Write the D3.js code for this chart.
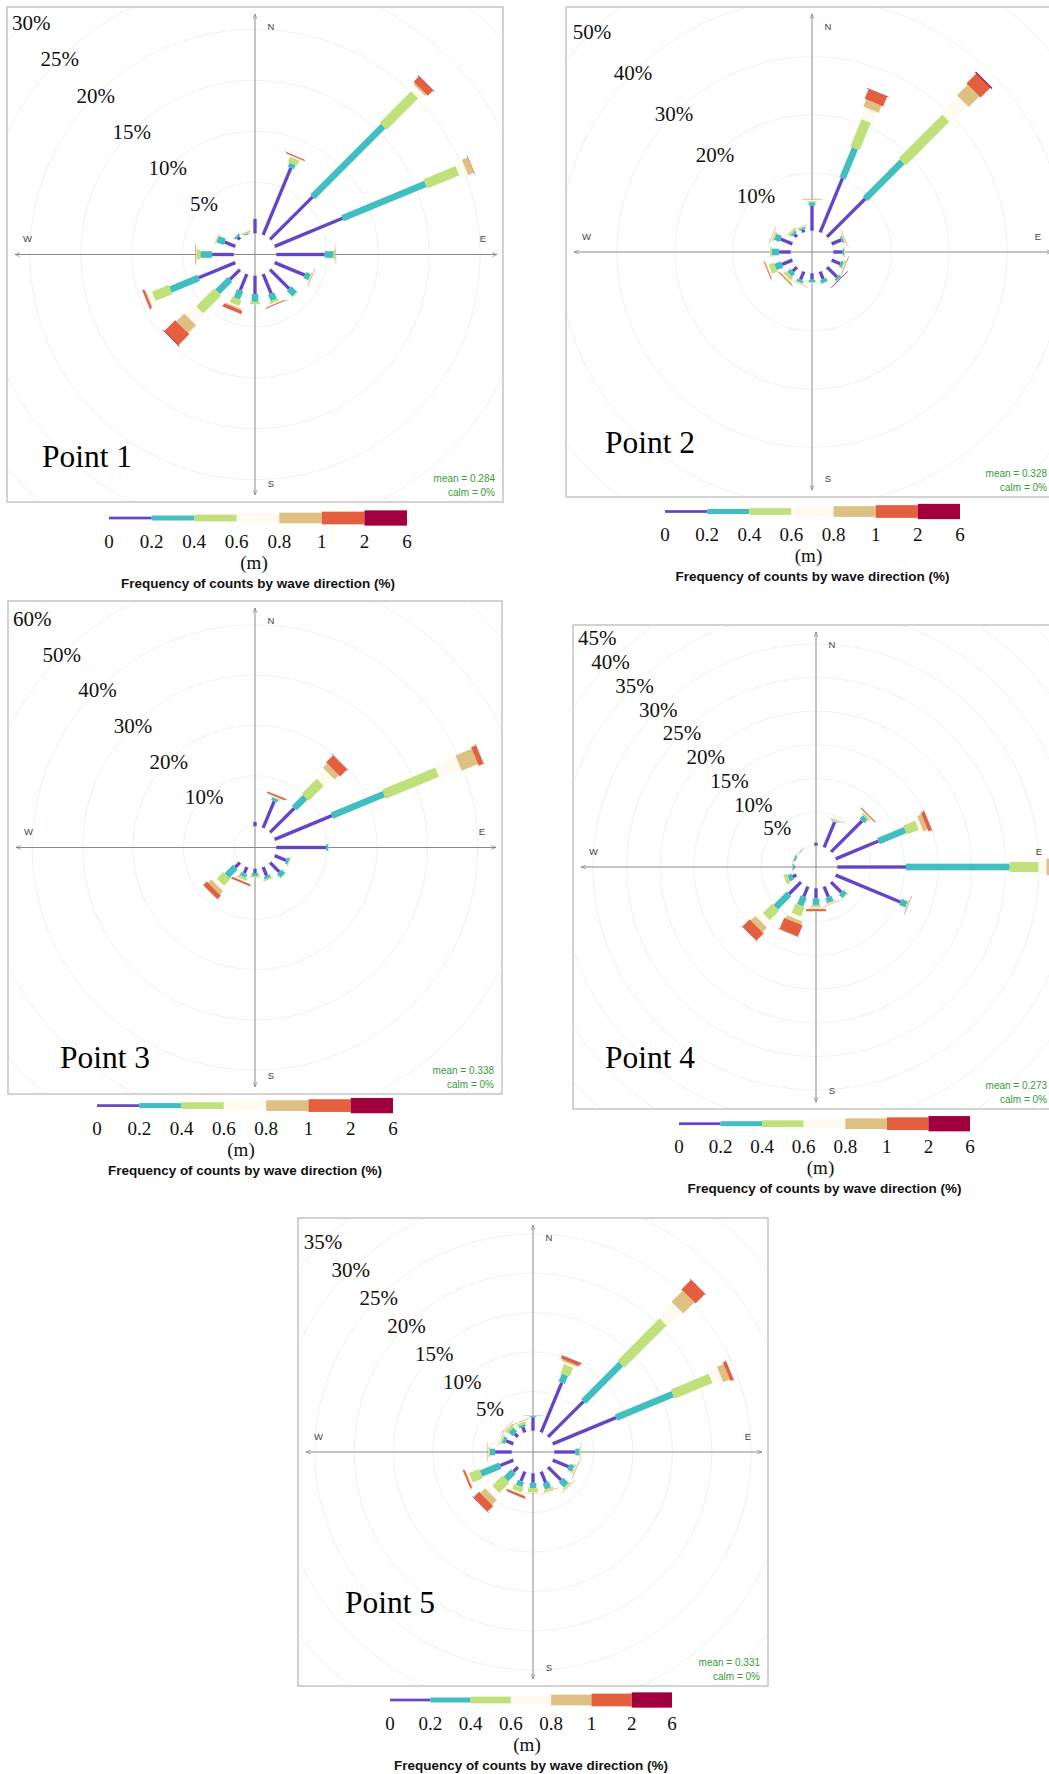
<!DOCTYPE html>
<html>
<head>
<meta charset="utf-8">
<script src="https://cdn.jsdelivr.net/npm/d3@7"></script>
<style>
  body { margin: 0; background: #fff; }
  svg { display: block; }
  .pct { font-family: "Liberation Serif", "Times New Roman", serif; font-size: 21px; fill: #111; }
  .pname { font-family: "Liberation Serif", "Times New Roman", serif; font-size: 32px; fill: #000; }
  .compass { font-family: "Liberation Sans", Arial, sans-serif; font-size: 9.5px; fill: #444; }
  .stats { font-family: "Liberation Sans", Arial, sans-serif; font-size: 10px; fill: #3a9a3a; }
  .legnum { font-family: "Liberation Serif", "Times New Roman", serif; font-size: 19px; fill: #111; }
  .legtitle { font-family: "Liberation Sans", Arial, sans-serif; font-size: 13px; font-weight: bold; fill: #111; }
</style>
</head>
<body>
<div id="chart"></div>
<script>
// Wave direction bins (degrees from north)
var directions = [0, 22.5, 45, 67.5, 90, 112.5, 135, 157.5, 180, 202.5, 225, 247.5, 270, 292.5, 315, 337.5];

// Wave height classes (m) and their colours
var heightBreaks = ["0", "0.2", "0.4", "0.6", "0.8", "1", "2", "6"];
var binColours = ["#6444c8", "#41bfc0", "#bfe07b", "#fffaef", "#dec083", "#e35f3e", "#a1003f"];

// Cumulative frequency (%) per direction, by height class (0-0.2, -0.4, -0.6, -0.8, -1, -2, -6 m)
var point1 = [
  [1.4, 1.4, 1.4, 1.4, 1.4, 1.4, 1.4],
  [7.1, 7.55, 8.1, 8.2, 8.25, 8.35, 8.37],
  [5.9, 15.7, 20.05, 20.7, 20.9, 21.6, 21.65],
  [7.2, 16.0, 19.4, 20.2, 20.8, 20.85, 20.86],
  [4.74, 5.62, 5.8, 5.82, 5.83, 5.86, 5.86],
  [3.2, 3.7, 3.8, 3.85, 3.86, 3.9, 3.9],
  [2.64, 3.42, 3.5, 3.5, 3.5, 3.5, 3.5],
  [2.05, 2.75, 3.0, 3.1, 3.15, 3.2, 3.22],
  [1.8, 2.55, 2.78, 2.8, 2.8, 2.8, 2.8],
  [1.7, 2.58, 3.18, 3.35, 3.5, 3.8, 3.82],
  [1.37, 3.1, 5.6, 6.9, 8.0, 9.5, 9.55],
  [3.89, 6.9, 8.66, 9.15, 9.25, 9.45, 9.47],
  [2.12, 3.27, 3.6, 3.65, 3.7, 3.75, 3.75],
  [1.13, 1.87, 2.0, 2.02, 2.02, 2.02, 2.02],
  [0.3, 0.5, 0.55, 0.55, 0.55, 0.55, 0.55],
  [0.05, 0.15, 0.3, 0.3, 0.3, 0.3, 0.3]
];
var point2 = [
  [4.3, 4.9, 5.1, 5.38, 5.41, 5.47, 5.48],
  [10.1, 15.7, 20.8, 22.9, 24.2, 26.0, 26.1],
  [9.3, 18.3, 29.0, 33.1, 35.7, 38.1, 38.3],
  [1.8, 2.1, 2.3, 2.35, 2.4, 2.45, 2.45],
  [1.6, 1.85, 2.0, 2.05, 2.05, 2.05, 2.05],
  [1.6, 2.05, 2.3, 2.4, 2.45, 2.52, 2.53],
  [2.4, 2.9, 3.0, 3.0, 3.0, 3.0, 3.08],
  [1.38, 2.0, 2.1, 2.15, 2.15, 2.15, 2.15],
  [1.1, 1.55, 1.65, 1.7, 1.7, 1.7, 1.7],
  [1.5, 2.0, 2.1, 2.2, 2.25, 2.27, 2.27],
  [1.0, 1.8, 2.4, 2.6, 2.8, 2.9, 2.92],
  [1.9, 3.16, 4.1, 4.4, 4.55, 4.65, 4.67],
  [2.0, 3.3, 3.55, 3.6, 3.6, 3.6, 3.6],
  [2.2, 3.2, 3.5, 3.65, 3.75, 3.78, 3.78],
  [0.6, 1.0, 1.4, 1.45, 1.5, 1.5, 1.5],
  [0.5, 0.8, 1.0, 1.05, 1.1, 1.12, 1.12]
];
var point3 = [
  [0.86, 0.86, 0.86, 0.86, 0.86, 0.86, 0.86],
  [5.7, 6.3, 6.5, 6.6, 6.7, 7.0, 7.02],
  [6.8, 9.9, 14.1, 16.5, 17.7, 19.6, 19.7],
  [12.3, 23.5, 34.9, 39.5, 43.0, 44.0, 44.05],
  [9.9, 10.3, 10.4, 10.4, 10.4, 10.4, 10.4],
  [2.5, 3.0, 3.2, 3.25, 3.25, 3.25, 3.25],
  [2.6, 3.6, 3.7, 3.7, 3.7, 3.7, 3.7],
  [1.85, 2.4, 2.7, 2.72, 2.72, 2.72, 2.72],
  [0.86, 1.4, 1.7, 1.72, 1.72, 1.72, 1.72],
  [1.3, 2.0, 2.6, 2.8, 2.9, 3.2, 3.22],
  [1.3, 3.65, 5.5, 6.4, 7.3, 8.3, 8.35],
  [0, 0, 0, 0, 0, 0, 0],
  [0, 0, 0, 0, 0, 0, 0],
  [0, 0, 0, 0, 0, 0, 0],
  [0, 0, 0, 0, 0, 0, 0],
  [0, 0, 0, 0, 0, 0, 0]
];
var point4 = [
  [0.45, 0.45, 0.45, 0.45, 0.45, 0.45, 0.45],
  [4.06, 4.2, 4.35, 4.4, 4.45, 4.47, 4.47],
  [6.5, 7.2, 7.55, 7.65, 7.7, 7.85, 7.87],
  [6.9, 11.2, 13.1, 13.6, 14.3, 14.8, 14.85],
  [10.2, 25.6, 29.9, 31.1, 32.3, 33.0, 33.05],
  [10.4, 11.4, 11.55, 11.6, 11.6, 11.67, 11.67],
  [2.15, 2.85, 3.0, 3.05, 3.05, 3.05, 3.05],
  [1.65, 2.45, 2.6, 2.7, 2.75, 2.78, 2.78],
  [1.5, 2.5, 2.85, 3.0, 3.1, 3.4, 3.4],
  [1.6, 3.0, 4.5, 5.1, 5.6, 7.4, 7.45],
  [2.5, 5.3, 7.3, 8.35, 9.3, 10.8, 10.85],
  [0.6, 1.25, 1.8, 1.85, 1.85, 1.85, 1.85],
  [0.15, 0.35, 0.4, 0.4, 0.4, 0.4, 0.4],
  [0.1, 0.3, 0.4, 0.4, 0.4, 0.4, 0.4],
  [0.05, 0.1, 0.2, 0.2, 0.2, 0.2, 0.2],
  [0, 0, 0, 0, 0, 0, 0]
];
var point5 = [
  [1.7, 1.85, 1.88, 1.9, 1.92, 1.95, 1.95],
  [6.8, 7.9, 9.15, 9.4, 9.6, 10.0, 10.05],
  [6.35, 13.1, 20.65, 23.2, 25.2, 26.9, 26.95],
  [8.7, 16.5, 21.7, 23.0, 23.9, 24.3, 24.35],
  [2.67, 3.2, 3.3, 3.35, 3.37, 3.4, 3.4],
  [2.2, 2.8, 3.0, 3.1, 3.15, 3.2, 3.2],
  [2.35, 3.25, 3.5, 3.55, 3.6, 3.62, 3.62],
  [1.5, 2.3, 2.6, 2.65, 2.7, 2.72, 2.72],
  [1.2, 1.9, 2.45, 2.5, 2.5, 2.52, 2.52],
  [1.27, 1.95, 2.65, 2.8, 2.9, 3.15, 3.17],
  [0.8, 2.16, 4.0, 4.85, 5.7, 6.7, 6.75],
  [1.8, 4.45, 5.85, 6.1, 6.2, 6.4, 6.42],
  [2.1, 2.75, 2.95, 3.0, 3.05, 3.08, 3.08],
  [1.0, 1.4, 1.6, 1.7, 1.73, 1.75, 1.75],
  [0.55, 1.27, 1.7, 1.8, 1.84, 1.87, 1.87],
  [0.7, 1.0, 1.3, 1.4, 1.45, 1.48, 1.48]
];

// Radial tick labels (%) per point
var ticks1 = [5, 10, 15, 20, 25, 30];
var ticks2 = [10, 20, 30, 40, 50];
var ticks3 = [10, 20, 30, 40, 50, 60];
var ticks4 = [5, 10, 15, 20, 25, 30, 35, 40, 45];
var ticks5 = [5, 10, 15, 20, 25, 30, 35];

var pointNames = ["Point 1", "Point 2", "Point 3", "Point 4", "Point 5"];
var meanHeights = ["0.284", "0.328", "0.338", "0.273", "0.331"];
var calmPct = ["0%", "0%", "0%", "0%", "0%"];

// Panel layout (frame box, px per %, name and legend placement)
var panels = [
  { data: point1, ticks: ticks1, x: 7,   y: 7,    w: 496, h: 495, k: 10.2, nx: 35, ny: -35, lx: 258,   ly: 518,    lw: 298 },
  { data: point2, ticks: ticks2, x: 566, y: 7,    w: 492, h: 490, k: 5.8,  nx: 39, ny: -44, lx: 812.5, ly: 511.5,  lw: 295 },
  { data: point3, ticks: ticks3, x: 8,   y: 601,  w: 494, h: 493, k: 5.04, nx: 52, ny: -26, lx: 245,   ly: 1105.6, lw: 296 },
  { data: point4, ticks: ticks4, x: 573, y: 625,  w: 486, h: 484, k: 6.73, nx: 32, ny: -41, lx: 824.5, ly: 1123.7, lw: 291 },
  { data: point5, ticks: ticks5, x: 298, y: 1218, w: 470, h: 468, k: 7.88, nx: 47, ny: -73, lx: 531,   ly: 1700,   lw: 282 }
];

var pageWidth = 1049,
    innerOffset = 21.3,     // radius of the calm hole
    paddleUnit = 3.33,      // paddle width step per height class
    legendHeights = [2.7, 5, 6.7, 8.7, 10.7, 12.7, 15.3];

var svg = d3.select("#chart").append("svg")
    .attr("width", pageWidth)
    .attr("height", 1774);

var defs = svg.append("defs");
defs.append("marker")
    .attr("id", "arrow")
    .attr("viewBox", "0 -5 10 10")
    .attr("refX", 10)
    .attr("markerWidth", 5)
    .attr("markerHeight", 5)
    .attr("orient", "auto-start-reverse")
  .append("path")
    .attr("d", "M0,-4L10,0L0,4")
    .attr("fill", "none")
    .attr("stroke", "#777")
    .attr("stroke-width", 1.2);

panels.forEach(function(p, pi) {
    drawRose(p, pi);
    drawLegend(p);
});

function drawRose(p, pi) {
    var cx = p.x + p.w / 2,
        cy = p.y + p.h / 2,
        maxTick = d3.max(p.ticks);

    var radius = d3.scaleLinear()
        .domain([0, maxTick])
        .range([innerOffset, innerOffset + p.k * maxTick]);

    defs.append("clipPath").attr("id", "clip" + pi)
      .append("rect")
        .attr("x", p.x).attr("y", p.y)
        .attr("width", p.w).attr("height", p.h);

    var g = svg.append("g").attr("clip-path", "url(#clip" + pi + ")");

    // grid rings
    g.selectAll("circle.ring")
        .data([0].concat(p.ticks))
        .enter().append("circle")
        .attr("class", "ring")
        .attr("cx", cx).attr("cy", cy)
        .attr("r", function(d) { return radius(d); })
        .attr("fill", "none")
        .attr("stroke", "#e6f2e6")
        .attr("stroke-width", 0.8);

    // compass axes
    g.append("line")
        .attr("x1", p.x + 8).attr("x2", p.x + p.w - 6)
        .attr("y1", cy).attr("y2", cy)
        .attr("stroke", "#8a8a8a").attr("stroke-width", 1)
        .attr("marker-start", "url(#arrow)").attr("marker-end", "url(#arrow)");
    g.append("line")
        .attr("x1", cx).attr("x2", cx)
        .attr("y1", p.y + 7).attr("y2", p.y + p.h - 7)
        .attr("stroke", "#8a8a8a").attr("stroke-width", 1)
        .attr("marker-start", "url(#arrow)").attr("marker-end", "url(#arrow)");

    // paddles
    var rose = g.append("g").attr("transform", "translate(" + cx + "," + cy + ")");
    var spokes = rose.selectAll("g.spoke")
        .data(p.data)
        .enter().append("g")
        .attr("class", "spoke")
        .attr("transform", function(d, i) { return "rotate(" + directions[i] + ")"; });

    spokes.selectAll("rect")
        .data(function(d) {
            return d.map(function(v, j) { return { lo: j ? d[j - 1] : 0, hi: v, j: j }; })
                    .filter(function(s) { return s.hi > s.lo; });
        })
        .enter().append("rect")
        .attr("x", function(s) { return -paddleUnit * (s.j + 1) / 2; })
        .attr("width", function(s) { return paddleUnit * (s.j + 1); })
        .attr("y", function(s) { return -radius(s.hi); })
        .attr("height", function(s) { return radius(s.hi) - radius(s.lo); })
        .attr("fill", function(s) { return binColours[s.j]; });

    // compass letters
    var compass = [
        { t: "N", x: cx + 16, y: p.y + 20 },
        { t: "S", x: cx + 16, y: p.y + p.h - 18.5 },
        { t: "W", x: p.x + 20.5, y: cy - 15.5 },
        { t: "E", x: p.x + p.w - 20, y: cy - 15.5 }
    ];
    g.selectAll("text.compass")
        .data(compass)
        .enter().append("text")
        .attr("class", "compass")
        .attr("x", function(d) { return d.x; })
        .attr("y", function(d) { return d.y; })
        .attr("dy", "0.35em")
        .attr("text-anchor", "middle")
        .text(function(d) { return d.t; });

    // mean / calm, kept inside the page
    var statsX = Math.min(p.x + p.w - 8, pageWidth - 2);
    svg.append("text").attr("class", "stats")
        .attr("x", statsX).attr("y", p.y + p.h - 20)
        .attr("text-anchor", "end")
        .text("mean = " + meanHeights[pi]);
    svg.append("text").attr("class", "stats")
        .attr("x", statsX).attr("y", p.y + p.h - 6)
        .attr("text-anchor", "end")
        .text("calm = " + calmPct[pi]);

    // frame
    svg.append("rect")
        .attr("x", p.x).attr("y", p.y)
        .attr("width", p.w).attr("height", p.h)
        .attr("fill", "none")
        .attr("stroke", "#c8c8c8")
        .attr("stroke-width", 1.6);

    // percentage labels along the NW diagonal
    var labels = svg.append("g");
    labels.selectAll("text.pct")
        .data(p.ticks)
        .enter().append("text")
        .attr("class", "pct")
        .attr("y", function(d) { return cy - radius(d) * Math.SQRT1_2; })
        .attr("dy", "0.35em")
        .attr("text-anchor", "middle")
        .text(function(d) { return d + "%"; })
        .attr("x", function(d) {
            var half = this.getComputedTextLength() / 2,
                x = cx - radius(d) * Math.SQRT1_2;
            return Math.max(x, p.x + 5 + half);
        });

    // point name
    svg.append("text")
        .attr("class", "pname")
        .attr("x", p.x + p.nx)
        .attr("y", p.y + p.h + p.ny)
        .attr("textLength", 90)
        .attr("lengthAdjust", "spacingAndGlyphs")
        .text(pointNames[pi]);
}

function drawLegend(p) {
    var x = d3.scaleLinear()
        .domain([0, binColours.length])
        .range([p.lx - p.lw / 2, p.lx + p.lw / 2]);

    var leg = svg.append("g");
    leg.selectAll("rect")
        .data(binColours)
        .enter().append("rect")
        .attr("x", function(d, i) { return x(i); })
        .attr("width", function(d, i) { return x(i + 1) - x(i); })
        .attr("y", function(d, i) { return p.ly - legendHeights[i] / 2; })
        .attr("height", function(d, i) { return legendHeights[i]; })
        .attr("fill", function(d) { return d; });

    leg.selectAll("text.legnum")
        .data(heightBreaks)
        .enter().append("text")
        .attr("class", "legnum")
        .attr("x", function(d, i) { return x(i); })
        .attr("y", p.ly + 23)
        .attr("dy", "0.35em")
        .attr("text-anchor", "middle")
        .text(function(d) { return d; });

    leg.append("text")
        .attr("class", "legnum")
        .attr("x", p.lx - 4)
        .attr("y", p.ly + 44)
        .attr("dy", "0.35em")
        .attr("text-anchor", "middle")
        .text("(m)");

    leg.append("text")
        .attr("class", "legtitle")
        .attr("x", p.lx)
        .attr("y", p.ly + 65)
        .attr("dy", "0.35em")
        .attr("text-anchor", "middle")
        .attr("textLength", 274)
        .attr("lengthAdjust", "spacingAndGlyphs")
        .text("Frequency of counts by wave direction (%)");
}
</script>
</body>
</html>
